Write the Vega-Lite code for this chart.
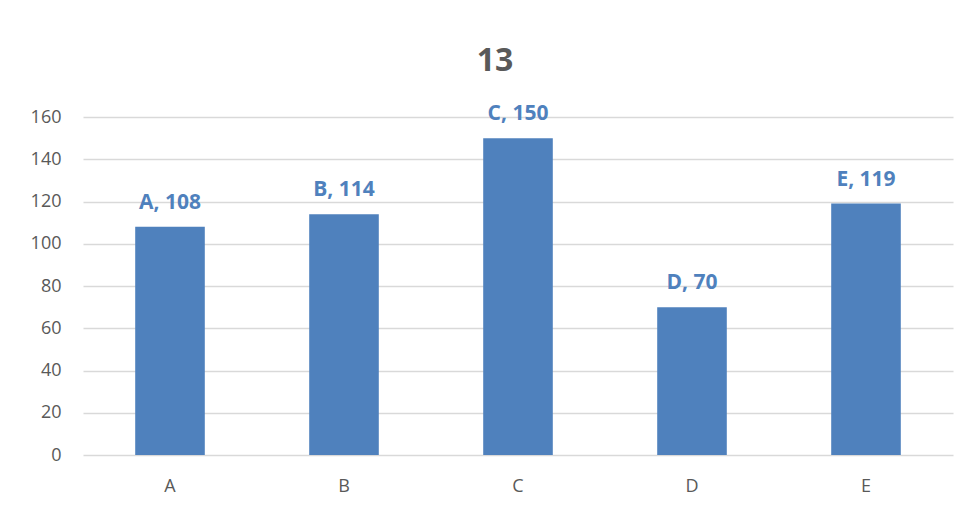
{
  "$schema": "https://vega.github.io/schema/vega-lite/v6.json",
  "autosize": "none",
  "width": 870,
  "height": 338,
  "padding": {"left": 83, "top": 117, "right": 16, "bottom": 54},
  "background": "white",
  "title": {"text": "13", "fontSize": 32, "font": "Open Sans", "fontWeight": "bold", "color": "#595959", "anchor": "middle", "dx": -23, "offset": 25, "frame": "group"},
  "data": {"values": [
    {"cat": "A", "value": 108},
    {"cat": "B", "value": 114},
    {"cat": "C", "value": 150},
    {"cat": "D", "value": 70},
    {"cat": "E", "value": 119}
  ]},
  "encoding": {
    "x": {"field": "cat", "type": "nominal", "title": null, "sort": null,
      "scale": {"paddingInner": 0.6, "paddingOuter": 0.3},
      "axis": {"labelAngle": 0, "domain": false, "ticks": false, "labelPadding": 22, "labelFontSize": 18, "labelFont": "Open Sans", "labelColor": "#595959", "grid": false}},
    "y": {"field": "value", "type": "quantitative", "title": null,
      "scale": {"domain": [0, 160], "nice": false},
      "axis": {"values": [0, 20, 40, 60, 80, 100, 120, 140, 160], "domain": false, "ticks": false, "labelPadding": 22, "labelFontSize": 18, "labelFont": "Open Sans", "labelColor": "#595959", "gridColor": "#d9d9d9", "gridWidth": 1.5}}
  },
  "layer": [
    {"mark": {"type": "bar", "color": "#4F81BD"}},
    {"mark": {"type": "text", "baseline": "bottom", "dy": -14, "fontSize": 21, "font": "Open Sans", "fontWeight": "bold", "color": "#4F81BD"},
     "encoding": {"text": {"field": "label"}},
     "transform": [{"calculate": "datum.cat + ', ' + datum.value", "as": "label"}]}
  ],
  "config": {"view": {"stroke": null}}
}
